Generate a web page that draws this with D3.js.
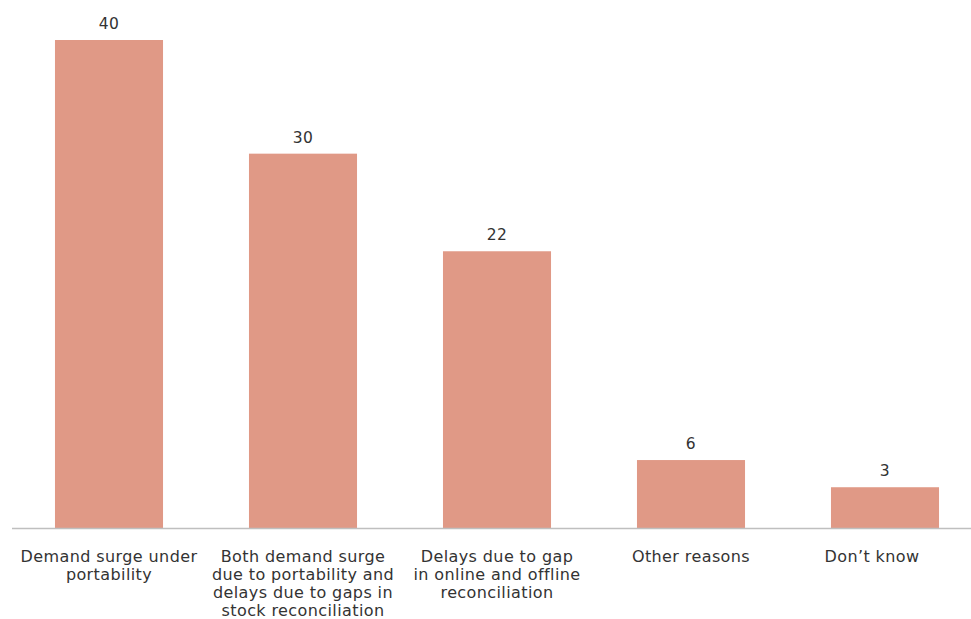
<!DOCTYPE html>
<html>
<head>
<meta charset="utf-8">
<script src="https://cdn.jsdelivr.net/npm/d3@7"></script>
<style>
  html, body { margin: 0; padding: 0; background: #fff; }
  svg { display: block; }
  text { font-family: "DejaVu Sans", sans-serif; fill: #333; }
</style>
</head>
<body>
<svg id="chart" width="971" height="619"></svg>
<script>
const categories = [
  ["Demand surge under", "portability"],
  ["Both demand surge", "due to portability and", "delays due to gaps in", "stock reconciliation"],
  ["Delays due to gap", "in online and offline", "reconciliation"],
  ["Other reasons"],
  ["Don\u2019t know"]
];
const values = [39.5, 30.3, 22.4, 5.5, 3.3];
const valueLabels = ["40", "30", "22", "6", "3"];

(function () {
const svg = d3.select("#chart");
const baseline = 528, plotTop = 40;

const x = d3.scaleBand()
  .domain(d3.range(categories.length))
  .range([12, 982])
  .paddingInner(0.443)
  .paddingOuter(0.2215);

const y = d3.scaleLinear()
  .domain([0, values[0]])
  .range([baseline, plotTop]);

svg.selectAll("rect.bar")
  .data(values)
  .join("rect")
  .attr("class", "bar")
  .attr("x", (d, i) => x(i))
  .attr("y", d => y(d))
  .attr("width", x.bandwidth())
  .attr("height", d => y(0) - y(d))
  .attr("fill", "#E09986");

const axis = svg.append("g")
  .attr("transform", `translate(0,${baseline})`)
  .call(d3.axisBottom(x).tickSize(0).tickFormat(""));
axis.select(".domain").attr("stroke", "#bfbfbf").attr("stroke-width", 1.3)
  .attr("d", `M12,0.5H971`);

svg.selectAll("text.val")
  .data(values)
  .join("text")
  .attr("class", "val")
  .attr("x", (d, i) => x(i) + x.bandwidth() / 2)
  .attr("y", d => y(d) - 11)
  .attr("text-anchor", "middle")
  .attr("font-size", 15.5)
  .attr("letter-spacing", 0.5)
  .text((d, i) => valueLabels[i]);

const n = categories.length;
const lab = svg.selectAll("text.cat")
  .data(categories)
  .join("text")
  .attr("class", "cat")
  .attr("text-anchor", "middle")
  .attr("font-size", 16)
  .attr("letter-spacing", 0.4)
  .attr("x", (d, i) => x(i) + x.bandwidth() / 2 - (i === n - 1 ? 13 : 0))
  .attr("y", 562);
lab.selectAll("tspan")
  .data(d => d)
  .join("tspan")
  .attr("x", function() { return this.parentNode.getAttribute("x"); })
  .attr("dy", (d, j) => j === 0 ? 0 : 17.9)
  .text(d => d);
})();
</script>
</body>
</html>
